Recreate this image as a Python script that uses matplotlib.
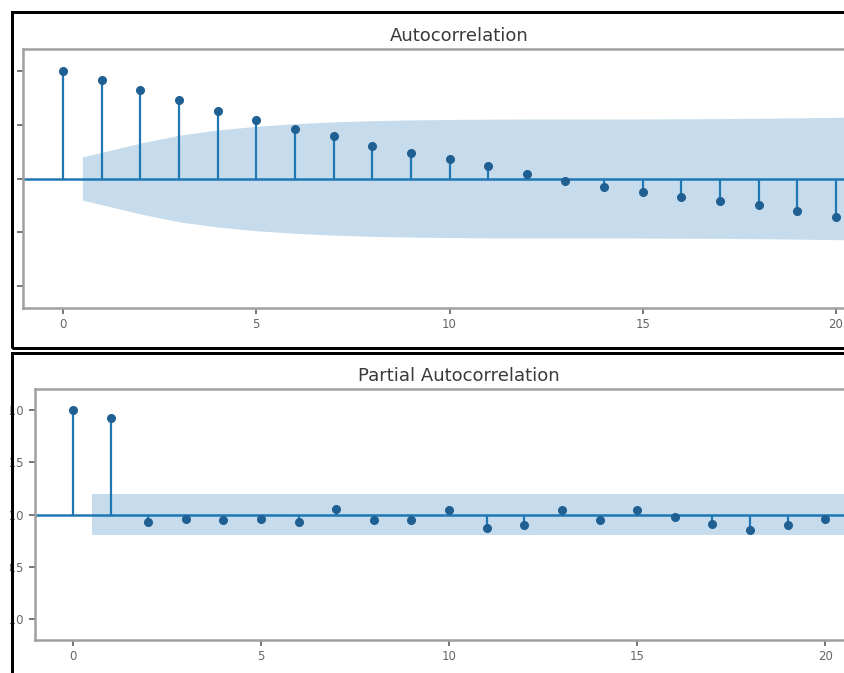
import numpy as np
import matplotlib
matplotlib.use("Agg")
import matplotlib.pyplot as plt
from matplotlib.patches import Rectangle

# ---- data ----
lags = list(range(0, 21))
acf_vals = [1.0, 0.917, 0.817, 0.725, 0.63, 0.546, 0.46, 0.39, 0.305, 0.24, 0.185,
            0.12, 0.046, -0.02, -0.08, -0.123, -0.167, -0.204, -0.25, -0.30, -0.36]
# confidence band half-width for lags 1..20 (ACF)
acf_band = [0.200, 0.328, 0.401, 0.450, 0.484, 0.508, 0.525, 0.536, 0.543, 0.547,
            0.550, 0.551, 0.551, 0.551, 0.552, 0.553, 0.555, 0.558, 0.562, 0.569]
pacf_vals = [1.0, 0.92, -0.074, -0.04, -0.05, -0.04, -0.07, 0.055, -0.05, -0.05, 0.04,
             -0.13, -0.105, 0.04, -0.05, 0.04, -0.026, -0.087, -0.147, -0.096, -0.04]
pacf_band = [0.20] * 20
titles = ["Autocorrelation", "Partial Autocorrelation"]
yticks = [-1.0, -0.5, 0.0, 0.5, 1.0]
xticks = [0, 5, 10, 15, 20]

W, H = 844, 673
fig = plt.figure(figsize=(W / 100, H / 100), dpi=100)
fig.patch.set_facecolor("white")

BLUE = "#1f77b4"
SPINE = "#a0a0a0"


def px_axes(left, top, right, bottom):
    return [left / W, 1 - bottom / H, (right - left) / W, (bottom - top) / H]


def draw(ax, vals, band, title, show_ylabels=True):
    x = np.array(lags, dtype=float)
    ax.vlines(x, 0, vals, color=BLUE, lw=1.6, zorder=2)
    ax.axhline(0, color=BLUE, lw=1.8, zorder=2)
    ax.plot(x, vals, "o", color="#1f5f92", ms=5.5, zorder=3)
    xb = x[1:].copy()
    xb[0] -= 0.5
    xb[-1] += 0.5
    b = np.array(band)
    ax.fill_between(xb, -b, b, color=BLUE, alpha=0.25, lw=0, zorder=1)
    ax.set_xlim(-1.025, 21.525)
    ax.set_ylim(-1.2, 1.2)
    ax.set_xticks(xticks)
    ax.set_yticks(yticks)
    if not show_ylabels:
        ax.set_yticklabels([])
    ax.set_title(title, fontsize=13, color="#3a3a3a", pad=6)
    for s in ax.spines.values():
        s.set_color(SPINE)
        s.set_linewidth(1.8)
    ax.tick_params(colors="#606060", labelsize=8.5, length=4, width=1.2,
                   labelcolor="#666666")


ax1 = fig.add_axes(px_axes(23.4, 49, 23.4 + 871.6, 308))
draw(ax1, acf_vals, acf_band, titles[0], show_ylabels=False)
ax2 = fig.add_axes(px_axes(34.5, 389, 34.5 + 848, 640))
draw(ax2, pacf_vals, pacf_band, titles[1])

# screenshot crop: white margin on the left, black frames
fig.add_artist(Rectangle((0, 0), 10 / W, 1, transform=fig.transFigure,
                         facecolor="white", edgecolor="none", zorder=19))
lw = 3 * 72 / 100
fig.add_artist(Rectangle((11.5 / W, 1 - 348 / H), 2.0, (348 - 11.5) / H,
                         transform=fig.transFigure, fill=False, edgecolor="black",
                         lw=lw, zorder=20, clip_on=False))
fig.add_artist(Rectangle((12 / W, -0.5), 2.0, 0.5 + 1 - 352.5 / H,
                         transform=fig.transFigure, fill=False, edgecolor="black",
                         lw=lw, zorder=20, clip_on=False))

fig.savefig("out.png", dpi=100)
